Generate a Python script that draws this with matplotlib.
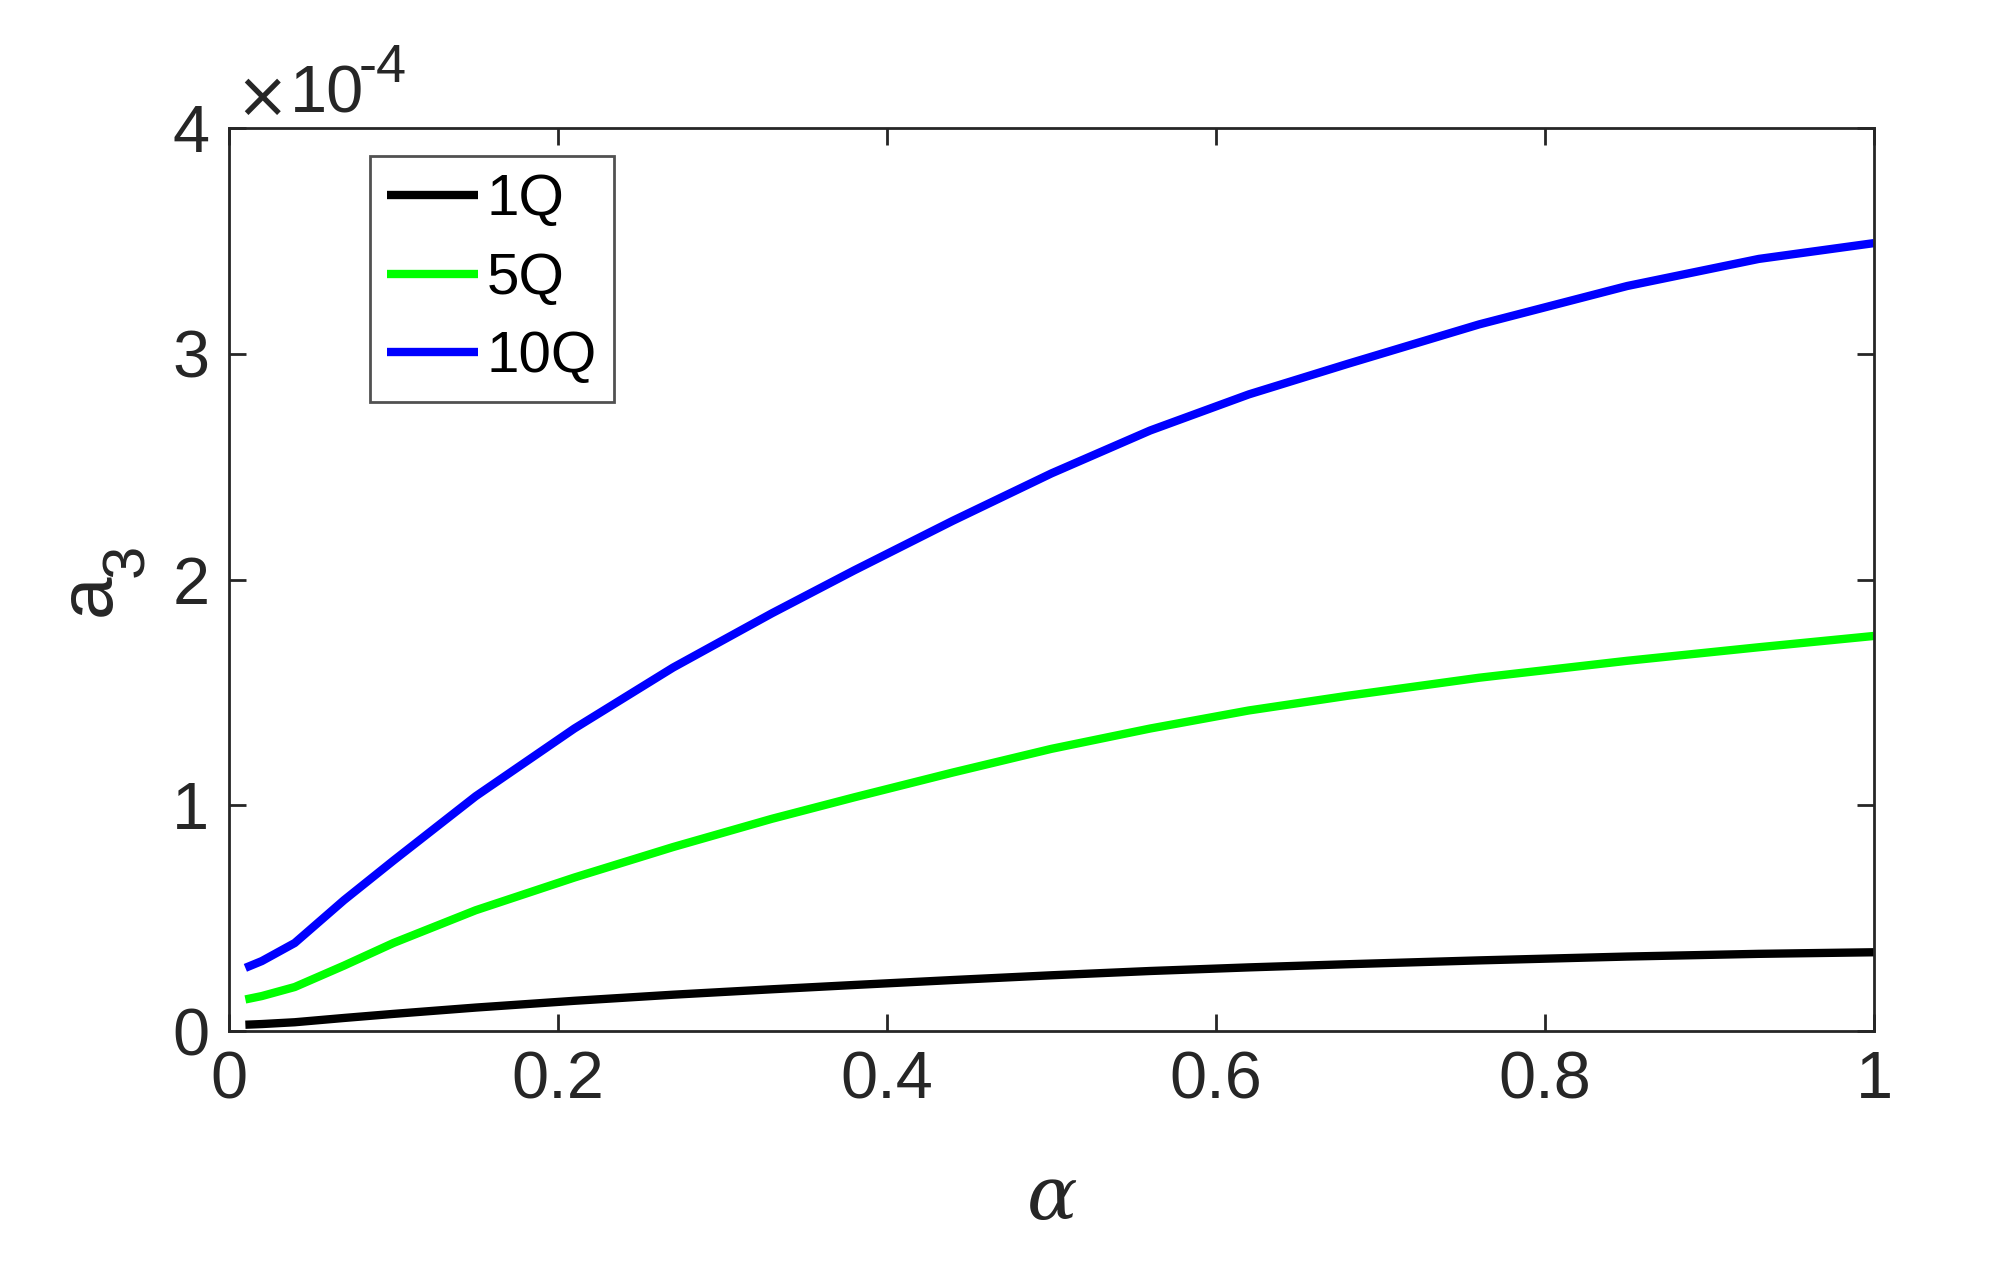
import matplotlib
matplotlib.use('Agg')
import matplotlib.pyplot as plt
import numpy as np
from matplotlib.ticker import ScalarFormatter

plt.rcParams['font.family'] = ['Liberation Sans', 'DejaVu Sans']
plt.rcParams['mathtext.fontset'] = 'custom'
plt.rcParams['mathtext.rm'] = 'Liberation Sans'
plt.rcParams['mathtext.it'] = 'DejaVu Serif:italic'

# alpha values and a3 (in units of 1e-4)
alpha = [0.01, 0.02, 0.04, 0.07, 0.10, 0.15, 0.21, 0.27, 0.33, 0.38, 0.44,
         0.50, 0.56, 0.62, 0.68, 0.76, 0.85, 0.93, 1.0]
a3_1Q = [0.028, 0.031, 0.039, 0.058, 0.076, 0.104, 0.134, 0.161, 0.185, 0.204,
         0.226, 0.247, 0.266, 0.282, 0.296, 0.313, 0.330, 0.342, 0.349]
a3_5Q = [0.14, 0.155, 0.195, 0.29, 0.39, 0.535, 0.68, 0.815, 0.94, 1.035,
         1.145, 1.25, 1.34, 1.42, 1.485, 1.565, 1.64, 1.70, 1.75]
a3_10Q = [0.28, 0.31, 0.39, 0.58, 0.755, 1.04, 1.34, 1.61, 1.85, 2.04,
          2.26, 2.47, 2.66, 2.82, 2.955, 3.13, 3.30, 3.42, 3.49]

labels = ['1Q', '5Q', '10Q']
colors = ['#000000', '#00ff00', '#0000ff']
scale = 1e-4

fig = plt.figure(figsize=(19.94, 12.62), dpi=100)
ax = fig.add_axes([0.1148, 0.183, 0.8250, 0.7156])

for ys, lab, c in zip([a3_1Q, a3_5Q, a3_10Q], labels, colors):
    ax.plot(alpha, np.array(ys) * scale, color=c, lw=6, label=lab,
            solid_capstyle='butt', solid_joinstyle='round')

ax.set_xlim(0, 1)
ax.set_ylim(0, 4e-4)
ax.set_xticks([0, 0.2, 0.4, 0.6, 0.8, 1.0])
ax.set_xticklabels(['0', '0.2', '0.4', '0.6', '0.8', '1'])
ax.set_yticks(np.arange(5) * scale)

fmt = ScalarFormatter()
fmt.set_powerlimits((0, 0))
ax.yaxis.set_major_formatter(fmt)
ax.yaxis.get_offset_text().set_visible(False)

dark = '#262626'
for s in ax.spines.values():
    s.set_linewidth(2)
    s.set_color(dark)
ax.tick_params(direction='in', length=12, width=2, labelsize=48,
               top=True, right=True, colors=dark, pad=14)

# exponent label (MATLAB style) above the y axis
fig.text(0.1180, 0.9073, '×', fontsize=46, color=dark, family='DejaVu Sans',
         ha='left', va='baseline')
fig.text(0.1454, 0.9105, '10', fontsize=48, color=dark,
         ha='left', va='baseline')
fig.text(0.1800, 0.935, '-4', fontsize=39, color=dark,
         ha='left', va='baseline')

ax.set_xlabel(r'$\alpha$', fontsize=54, color=dark, labelpad=38)

# y label a_3 with a large subscript
fig.text(0.0552, 0.5119, 'a', fontsize=55, color=dark, rotation=90,
         rotation_mode='anchor', ha='left', va='baseline')
fig.text(0.0717, 0.5428, '3', fontsize=43, color=dark, rotation=90,
         rotation_mode='anchor', ha='left', va='baseline')

leg = ax.legend(loc='upper left', bbox_to_anchor=(0.0857, 0.969),
                borderaxespad=0, fontsize=42, fancybox=False,
                handlelength=1.55, handletextpad=0.15, labelspacing=0.42,
                borderpad=0.3)
leg.get_frame().set_edgecolor(dark)
leg.get_frame().set_linewidth(2)

fig.savefig('out.png', dpi=100)
